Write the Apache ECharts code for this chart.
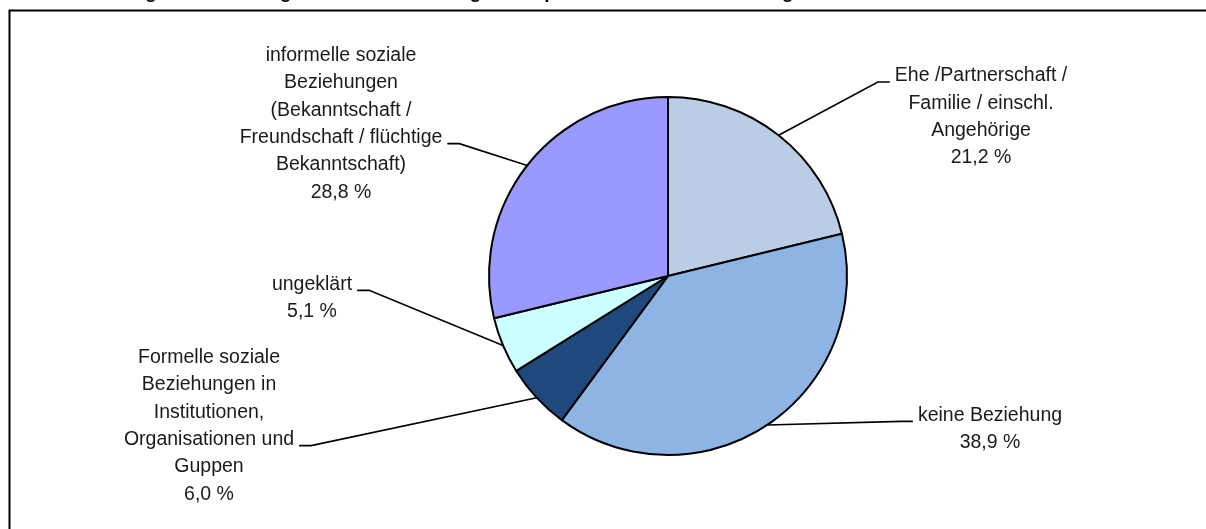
<!DOCTYPE html>
<html>
<head>
<meta charset="utf-8">
<script src="https://cdn.jsdelivr.net/npm/echarts@6/dist/echarts.min.js"></script>
<style>
  html, body { margin: 0; padding: 0; background: #fff; }
  #chart { width: 1206px; height: 529px; }
</style>
</head>
<body>
<div id="chart"></div>
<script>
const categories = [
  'Ehe /Partnerschaft /\nFamilie / einschl.\nAngehörige',
  'keine Beziehung',
  'Formelle soziale\nBeziehungen in\nInstitutionen,\nOrganisationen und\nGuppen',
  'ungeklärt',
  'informelle soziale\nBeziehungen\n(Bekanntschaft /\nFreundschaft / flüchtige\nBekanntschaft)',
]
const shares = [21.2, 38.9, 6.0, 5.1, 28.8]
const colors = ['#B9CDE5', '#8EB4E3', '#1F497D', '#CCFFFF', '#9999FF']
const titleText = 'Abbildung: Tatverdächtige nach Vorbeziehung zum Opfer bei vollendeten Tötungsdelikten – Anteile in Prozent'

// where each label block sits, which side the leader comes from, and which text line it meets
const labelPlace = [
  { x: 981, y: 117, side: 'right', line: 0 },
  { x: 990, y: 429, side: 'right', line: 0 },
  { x: 209, y: 426, side: 'left', line: 3 },
  { x: 312, y: 298, side: 'left', line: 0 },
  { x: 341, y: 124, side: 'left', line: 3 },
]

const LINE_H = 27.3
const FONT = "'Liberation Sans', Arial, sans-serif"
const CENTER = [668, 276]
const RADIUS = 179

const chart = echarts.init(document.getElementById('chart'))

function fmtPct(v) {
  return v.toFixed(1).replace('.', ',') + ' %'
}

function midEdgePoint(idx) {
  const total = shares.reduce((a, b) => a + b, 0)
  let before = 0
  for (let i = 0; i < idx; i++) before += shares[i]
  const ang = ((before + shares[idx] / 2) / total) * Math.PI * 2
  return [CENTER[0] + RADIUS * Math.sin(ang), CENTER[1] - RADIUS * Math.cos(ang)]
}

chart.setOption({
  animation: false,
  graphic: [
    {
      type: 'rect',
      silent: true,
      shape: { x: 9.5, y: 10.5, width: 1220, height: 540 },
      style: { fill: 'none', stroke: '#000', lineWidth: 2 },
    },
    {
      type: 'text',
      silent: true,
      x: 560,
      y: 2,
      style: {
        text: titleText,
        align: 'center',
        verticalAlign: 'bottom',
        fontFamily: FONT,
        fontWeight: 'bold',
        fontSize: 19,
        fill: '#000',
      },
    },
  ],
  series: [
    {
      type: 'pie',
      center: CENTER,
      radius: RADIUS,
      startAngle: 90,
      clockwise: true,
      avoidLabelOverlap: false,
      silent: true,
      emphasis: { disabled: true },
      itemStyle: { borderColor: '#000', borderWidth: 2 },
      label: {
        show: true,
        position: 'outside',
        formatter: (p) => p.name + '\n' + fmtPct(p.value),
        color: '#1a1a1a',
        fontFamily: FONT,
        fontSize: 19.5,
        lineHeight: LINE_H,
        align: 'center',
      },
      labelLine: {
        show: true,
        length: 10,
        length2: 10,
        lineStyle: { color: '#000', width: 1.6 },
      },
      labelLayout: (params) => {
        const p = labelPlace[params.dataIndex]
        const w = params.labelRect.width
        const h = params.labelRect.height
        const top = p.y - h / 2
        const ly = top + p.line * LINE_H + LINE_H / 2 + 6
        const edge = p.side === 'right' ? p.x - w / 2 - 5 : p.x + w / 2 + 5
        const knee = p.side === 'right' ? edge - 12 : edge + 12
        const start = (params.labelLinePoints && params.labelLinePoints[0]) || midEdgePoint(params.dataIndex)
        return {
          x: p.x,
          y: p.y,
          align: 'center',
          verticalAlign: 'middle',
          labelLinePoints: [start, [knee, ly], [edge, ly]],
        }
      },
      data: categories.map((name, i) => ({
        name,
        value: shares[i],
        itemStyle: { color: colors[i] },
      })),
    },
  ],
})
</script>
</body>
</html>
